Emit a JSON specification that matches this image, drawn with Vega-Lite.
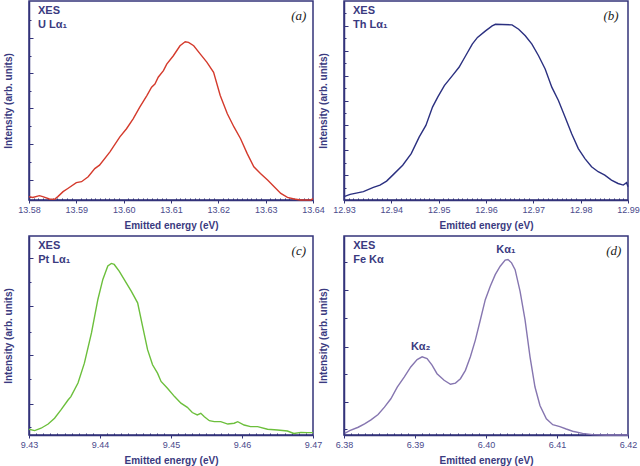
{
  "$schema": "https://vega.github.io/schema/vega-lite/v6.json",
  "padding": {"top": 0, "left": 2, "right": 0, "bottom": 0},
  "background": "white",
  "columns": 2,
  "spacing": {"row": 36, "column": 31},
  "bounds": "flush",
  "config": {
    "view": {"stroke": "#33337a", "strokeWidth": 1.5},
    "axis": {
      "grid": false,
      "domainColor": "#33337a",
      "domainWidth": 1.5,
      "tickColor": "#33337a",
      "tickWidth": 1,
      "tickCount": 500,
      "labelColor": "#4a4a8c",
      "labelFont": "Liberation Sans",
      "labelFontSize": 9,
      "labelFlush": false,
      "labelBound": false,
      "labelOverlap": false,
      "titleColor": "#3a3a80",
      "titleFont": "Liberation Sans",
      "titleFontSize": 10,
      "titleFontWeight": "bold"
    },
    "text": {"font": "Liberation Sans", "fontSize": 11, "fontWeight": "bold", "color": "#3a3a80"}
  },
  "datasets": {
    "a": [
      {"e":13.5800,"i":0.017},{"e":13.5808,"i":0.013},{"e":13.5822,"i":0.022},{"e":13.5829,"i":0.017},{"e":13.5843,"i":0.005},{"e":13.5854,"i":0.003},{"e":13.5861,"i":0.017},{"e":13.5872,"i":0.042},{"e":13.5882,"i":0.058},{"e":13.5900,"i":0.087},{"e":13.5911,"i":0.092},{"e":13.5925,"i":0.117},{"e":13.5939,"i":0.158},{"e":13.5949,"i":0.175},{"e":13.5971,"i":0.242},{"e":13.5992,"i":0.317},{"e":13.6006,"i":0.358},{"e":13.6020,"i":0.408},{"e":13.6034,"i":0.467},{"e":13.6049,"i":0.525},{"e":13.6059,"i":0.567},{"e":13.6066,"i":0.583},{"e":13.6073,"i":0.617},{"e":13.6084,"i":0.650},{"e":13.6091,"i":0.683},{"e":13.6105,"i":0.725},{"e":13.6119,"i":0.775},{"e":13.6130,"i":0.795},{"e":13.6137,"i":0.792},{"e":13.6148,"i":0.775},{"e":13.6162,"i":0.733},{"e":13.6176,"i":0.692},{"e":13.6190,"i":0.642},{"e":13.6204,"i":0.525},{"e":13.6219,"i":0.433},{"e":13.6233,"i":0.367},{"e":13.6247,"i":0.308},{"e":13.6261,"i":0.233},{"e":13.6275,"i":0.167},{"e":13.6289,"i":0.133},{"e":13.6304,"i":0.100},{"e":13.6318,"i":0.067},{"e":13.6332,"i":0.033},{"e":13.6346,"i":0.013},{"e":13.6360,"i":0.005},{"e":13.6374,"i":0.0},{"e":13.6396,"i":0.0},{"e":13.6400,"i":0.008}
    ],
    "b": [
      {"e":12.9300,"i":0.017},{"e":12.9313,"i":0.028},{"e":12.9341,"i":0.042},{"e":12.9362,"i":0.063},{"e":12.9376,"i":0.075},{"e":12.9390,"i":0.095},{"e":12.9403,"i":0.125},{"e":12.9424,"i":0.175},{"e":12.9442,"i":0.233},{"e":12.9459,"i":0.317},{"e":12.9473,"i":0.375},{"e":12.9487,"i":0.467},{"e":12.9498,"i":0.517},{"e":12.9512,"i":0.575},{"e":12.9529,"i":0.625},{"e":12.9543,"i":0.667},{"e":12.9557,"i":0.725},{"e":12.9571,"i":0.783},{"e":12.9582,"i":0.817},{"e":12.9599,"i":0.850},{"e":12.9613,"i":0.875},{"e":12.9620,"i":0.883},{"e":12.9634,"i":0.882},{"e":12.9655,"i":0.880},{"e":12.9669,"i":0.858},{"e":12.9683,"i":0.825},{"e":12.9697,"i":0.783},{"e":12.9711,"i":0.725},{"e":12.9725,"i":0.658},{"e":12.9739,"i":0.567},{"e":12.9753,"i":0.500},{"e":12.9767,"i":0.417},{"e":12.9781,"i":0.333},{"e":12.9795,"i":0.258},{"e":12.9809,"i":0.208},{"e":12.9823,"i":0.167},{"e":12.9837,"i":0.142},{"e":12.9851,"i":0.125},{"e":12.9865,"i":0.100},{"e":12.9879,"i":0.083},{"e":12.9890,"i":0.075},{"e":12.9897,"i":0.087},{"e":12.9900,"i":0.067}
    ],
    "c": [
      {"e":9.4300,"i":0.029},{"e":9.4308,"i":0.022},{"e":9.4317,"i":0.034},{"e":9.4327,"i":0.055},{"e":9.4336,"i":0.084},{"e":9.4345,"i":0.126},{"e":9.4355,"i":0.176},{"e":9.4359,"i":0.193},{"e":9.4369,"i":0.261},{"e":9.4378,"i":0.361},{"e":9.4388,"i":0.513},{"e":9.4397,"i":0.681},{"e":9.4404,"i":0.782},{"e":9.4411,"i":0.849},{"e":9.4416,"i":0.862},{"e":9.4420,"i":0.857},{"e":9.4427,"i":0.824},{"e":9.4434,"i":0.782},{"e":9.4444,"i":0.723},{"e":9.4453,"i":0.664},{"e":9.4460,"i":0.546},{"e":9.4467,"i":0.429},{"e":9.4474,"i":0.353},{"e":9.4481,"i":0.311},{"e":9.4486,"i":0.269},{"e":9.4495,"i":0.235},{"e":9.4505,"i":0.193},{"e":9.4514,"i":0.160},{"e":9.4523,"i":0.139},{"e":9.4530,"i":0.113},{"e":9.4537,"i":0.101},{"e":9.4542,"i":0.109},{"e":9.4547,"i":0.092},{"e":9.4554,"i":0.072},{"e":9.4561,"i":0.067},{"e":9.4570,"i":0.067},{"e":9.4580,"i":0.055},{"e":9.4589,"i":0.059},{"e":9.4594,"i":0.067},{"e":9.4603,"i":0.050},{"e":9.4612,"i":0.042},{"e":9.4622,"i":0.042},{"e":9.4636,"i":0.029},{"e":9.4650,"i":0.025},{"e":9.4664,"i":0.020},{"e":9.4673,"i":0.008},{"e":9.4683,"i":0.013},{"e":9.4692,"i":0.012},{"e":9.4700,"i":0.012}
    ],
    "d": [
      {"e":6.3801,"i":0.008},{"e":6.3808,"i":0.022},{"e":6.3820,"i":0.039},{"e":6.3829,"i":0.056},{"e":6.3838,"i":0.076},{"e":6.3848,"i":0.103},{"e":6.3857,"i":0.140},{"e":6.3866,"i":0.182},{"e":6.3875,"i":0.241},{"e":6.3885,"i":0.292},{"e":6.3894,"i":0.342},{"e":6.3903,"i":0.379},{"e":6.3910,"i":0.393},{"e":6.3917,"i":0.384},{"e":6.3924,"i":0.351},{"e":6.3931,"i":0.308},{"e":6.3941,"i":0.275},{"e":6.3950,"i":0.255},{"e":6.3957,"i":0.261},{"e":6.3964,"i":0.283},{"e":6.3971,"i":0.325},{"e":6.3978,"i":0.393},{"e":6.3985,"i":0.477},{"e":6.3992,"i":0.578},{"e":6.3999,"i":0.680},{"e":6.4006,"i":0.747},{"e":6.4013,"i":0.806},{"e":6.4020,"i":0.848},{"e":6.4027,"i":0.879},{"e":6.4031,"i":0.882},{"e":6.4036,"i":0.865},{"e":6.4041,"i":0.831},{"e":6.4048,"i":0.722},{"e":6.4055,"i":0.578},{"e":6.4062,"i":0.393},{"e":6.4069,"i":0.241},{"e":6.4076,"i":0.148},{"e":6.4085,"i":0.081},{"e":6.4094,"i":0.052},{"e":6.4104,"i":0.042},{"e":6.4113,"i":0.030},{"e":6.4122,"i":0.019},{"e":6.4136,"i":0.008},{"e":6.4150,"i":0.002},{"e":6.4169,"i":0.0},{"e":6.4200,"i":0.0}
    ],
    "notes": [
      {"p":"a","e":13.5819,"i":0.95,"t":"XES"},{"p":"a","e":13.5819,"i":0.88,"t":"U Lα₁"},
      {"p":"b","e":12.9319,"i":0.95,"t":"XES"},{"p":"b","e":12.9319,"i":0.88,"t":"Th Lα₁"},
      {"p":"c","e":9.4313,"i":0.95,"t":"XES"},{"p":"c","e":9.4313,"i":0.88,"t":"Pt Lα₁"},
      {"p":"d","e":6.3813,"i":0.95,"t":"XES"},{"p":"d","e":6.3813,"i":0.88,"t":"Fe Kα"}
    ],
    "tags": [
      {"p":"a","e":13.637,"i":0.925,"t":"(a)"},
      {"p":"b","e":12.9864,"i":0.925,"t":"(b)"},
      {"p":"c","e":9.468,"i":0.925,"t":"(c)"},
      {"p":"d","e":6.418,"i":0.925,"t":"(d)"}
    ],
    "peaks": [
      {"p":"d","e":6.3908,"i":0.444,"t":"Kα₂"},
      {"p":"d","e":6.4028,"i":0.93,"t":"Kα₁"}
    ]
  },
  "concat": [
    {
      "width": 284, "height": 199,
      "layer": [
        {
          "data": {"name": "a"},
          "mark": {"type": "line", "color": "#d43a2c", "strokeWidth": 1.4},
          "encoding": {
            "x": {"field": "e", "type": "quantitative", "scale": {"domain": [13.58, 13.64], "nice": false, "zero": false},
              "axis": {"title": "Emitted energy (eV)", "tickCount": 500, "labelOverlap": false, "values": [13.58,13.581,13.582,13.583,13.584,13.585,13.586,13.587,13.588,13.589,13.59,13.591,13.592,13.593,13.594,13.595,13.596,13.597,13.598,13.599,13.6,13.601,13.602,13.603,13.604,13.605,13.606,13.607,13.608,13.609,13.61,13.611,13.612,13.613,13.614,13.615,13.616,13.617,13.618,13.619,13.62,13.621,13.622,13.623,13.624,13.625,13.626,13.627,13.628,13.629,13.63,13.631,13.632,13.633,13.634,13.635,13.636,13.637,13.638,13.639,13.64],
                "labelExpr": "abs(datum.value*100-round(datum.value*100))<0.01 ? format(datum.value,'.2f') : ''",
                "tickSize": {"condition": {"test": "abs(datum.value*100-round(datum.value*100))<0.01", "value": 3}, "value": -2},
                "labelPadding": 2, "titlePadding": 6}},
            "y": {"field": "i", "type": "quantitative", "scale": {"domain": [0, 1], "nice": false},
              "axis": {"title": "Intensity (arb. units)", "labels": false, "tickCount": 500, "values": [0.015,0.1,0.19,0.28,0.37,0.46,0.55,0.64,0.725,0.815,0.905],
                "tickSize": {"condition": {"test": "indexof([0.1,0.28,0.46,0.64,0.815], datum.value) >= 0", "value": -4}, "value": -2},
                "titlePadding": 15}}
          }
        },
        {
          "data": {"name": "notes"}, "transform": [{"filter": "datum.p == 'a'"}],
          "mark": {"type": "text", "align": "left", "baseline": "middle"},
          "encoding": {"x": {"field": "e", "type": "quantitative"}, "y": {"field": "i", "type": "quantitative"}, "text": {"field": "t"}}
        },
        {
          "data": {"name": "tags"}, "transform": [{"filter": "datum.p == 'a'"}],
          "mark": {"type": "text", "align": "center", "baseline": "middle", "font": "Liberation Serif", "fontStyle": "italic", "fontWeight": "normal", "fontSize": 13, "color": "#222"},
          "encoding": {"x": {"field": "e", "type": "quantitative"}, "y": {"field": "i", "type": "quantitative"}, "text": {"field": "t"}}
        }
      ]
    },
    {
      "width": 284, "height": 199,
      "layer": [
        {
          "data": {"name": "b"},
          "mark": {"type": "line", "color": "#2b3080", "strokeWidth": 1.4},
          "encoding": {
            "x": {"field": "e", "type": "quantitative", "scale": {"domain": [12.93, 12.99], "nice": false, "zero": false},
              "axis": {"title": "Emitted energy (eV)", "tickCount": 500, "labelOverlap": false, "values": [12.93,12.931,12.932,12.933,12.934,12.935,12.936,12.937,12.938,12.939,12.94,12.941,12.942,12.943,12.944,12.945,12.946,12.947,12.948,12.949,12.95,12.951,12.952,12.953,12.954,12.955,12.956,12.957,12.958,12.959,12.96,12.961,12.962,12.963,12.964,12.965,12.966,12.967,12.968,12.969,12.97,12.971,12.972,12.973,12.974,12.975,12.976,12.977,12.978,12.979,12.98,12.981,12.982,12.983,12.984,12.985,12.986,12.987,12.988,12.989,12.99],
                "labelExpr": "abs(datum.value*100-round(datum.value*100))<0.01 ? format(datum.value,'.2f') : ''",
                "tickSize": {"condition": {"test": "abs(datum.value*100-round(datum.value*100))<0.01", "value": 3}, "value": -2},
                "labelPadding": 2, "titlePadding": 6}},
            "y": {"field": "i", "type": "quantitative", "scale": {"domain": [0, 1], "nice": false},
              "axis": {"title": "Intensity (arb. units)", "labels": false, "tickCount": 500, "values": [0.0625,0.125,0.1875,0.25,0.3125,0.375,0.4375,0.5,0.5625,0.625,0.6875,0.75,0.8125,0.875,0.9375],
                "tickSize": {"condition": {"test": "indexof([0.125,0.25,0.375,0.5,0.625,0.75,0.875], datum.value) >= 0", "value": -4}, "value": -2},
                "titlePadding": 15}}
          }
        },
        {
          "data": {"name": "notes"}, "transform": [{"filter": "datum.p == 'b'"}],
          "mark": {"type": "text", "align": "left", "baseline": "middle"},
          "encoding": {"x": {"field": "e", "type": "quantitative"}, "y": {"field": "i", "type": "quantitative"}, "text": {"field": "t"}}
        },
        {
          "data": {"name": "tags"}, "transform": [{"filter": "datum.p == 'b'"}],
          "mark": {"type": "text", "align": "center", "baseline": "middle", "font": "Liberation Serif", "fontStyle": "italic", "fontWeight": "normal", "fontSize": 13, "color": "#222"},
          "encoding": {"x": {"field": "e", "type": "quantitative"}, "y": {"field": "i", "type": "quantitative"}, "text": {"field": "t"}}
        }
      ]
    },
    {
      "width": 284, "height": 199,
      "layer": [
        {
          "data": {"name": "c"},
          "mark": {"type": "line", "color": "#6cbf3c", "strokeWidth": 1.4},
          "encoding": {
            "x": {"field": "e", "type": "quantitative", "scale": {"domain": [9.43, 9.47], "nice": false, "zero": false},
              "axis": {"title": "Emitted energy (eV)", "tickCount": 500, "labelOverlap": false, "values": [9.43,9.431,9.432,9.433,9.434,9.435,9.436,9.437,9.438,9.439,9.44,9.441,9.442,9.443,9.444,9.445,9.446,9.447,9.448,9.449,9.45,9.451,9.452,9.453,9.454,9.455,9.456,9.457,9.458,9.459,9.46,9.461,9.462,9.463,9.464,9.465,9.466,9.467,9.468,9.469,9.47],
                "labelExpr": "abs(datum.value*100-round(datum.value*100))<0.01 ? format(datum.value,'.2f') : ''",
                "tickSize": {"condition": {"test": "abs(datum.value*100-round(datum.value*100))<0.01", "value": 3}, "value": -2},
                "labelPadding": 2, "titlePadding": 6}},
            "y": {"field": "i", "type": "quantitative", "scale": {"domain": [0, 1], "nice": false},
              "axis": {"title": "Intensity (arb. units)", "labels": false, "tickCount": 500, "values": [0.04,0.157,0.283,0.4,0.52,0.646,0.767,0.889],
                "tickSize": {"condition": {"test": "indexof([0.157,0.4,0.646,0.889], datum.value) >= 0", "value": -4}, "value": -2},
                "titlePadding": 15}}
          }
        },
        {
          "data": {"name": "notes"}, "transform": [{"filter": "datum.p == 'c'"}],
          "mark": {"type": "text", "align": "left", "baseline": "middle"},
          "encoding": {"x": {"field": "e", "type": "quantitative"}, "y": {"field": "i", "type": "quantitative"}, "text": {"field": "t"}}
        },
        {
          "data": {"name": "tags"}, "transform": [{"filter": "datum.p == 'c'"}],
          "mark": {"type": "text", "align": "center", "baseline": "middle", "font": "Liberation Serif", "fontStyle": "italic", "fontWeight": "normal", "fontSize": 13, "color": "#222"},
          "encoding": {"x": {"field": "e", "type": "quantitative"}, "y": {"field": "i", "type": "quantitative"}, "text": {"field": "t"}}
        }
      ]
    },
    {
      "width": 284, "height": 199,
      "layer": [
        {
          "data": {"name": "d"},
          "mark": {"type": "line", "color": "#8676b0", "strokeWidth": 1.4},
          "encoding": {
            "x": {"field": "e", "type": "quantitative", "scale": {"domain": [6.38, 6.42], "nice": false, "zero": false},
              "axis": {"title": "Emitted energy (eV)", "tickCount": 500, "labelOverlap": false, "values": [6.38,6.381,6.382,6.383,6.384,6.385,6.386,6.387,6.388,6.389,6.39,6.391,6.392,6.393,6.394,6.395,6.396,6.397,6.398,6.399,6.4,6.401,6.402,6.403,6.404,6.405,6.406,6.407,6.408,6.409,6.41,6.411,6.412,6.413,6.414,6.415,6.416,6.417,6.418,6.419,6.42],
                "labelExpr": "abs(datum.value*100-round(datum.value*100))<0.01 ? format(datum.value,'.2f') : ''",
                "tickSize": {"condition": {"test": "abs(datum.value*100-round(datum.value*100))<0.01", "value": 3}, "value": -2},
                "labelPadding": 2, "titlePadding": 6}},
            "y": {"field": "i", "type": "quantitative", "scale": {"domain": [0, 1], "nice": false},
              "axis": {"title": "Intensity (arb. units)", "labels": false, "tickCount": 500, "values": [0.03,0.167,0.308,0.444,0.586,0.727,0.869],
                "tickSize": {"condition": {"test": "indexof([0.167,0.444,0.727], datum.value) >= 0", "value": -4}, "value": -3},
                "titlePadding": 15}}
          }
        },
        {
          "data": {"name": "notes"}, "transform": [{"filter": "datum.p == 'd'"}],
          "mark": {"type": "text", "align": "left", "baseline": "middle"},
          "encoding": {"x": {"field": "e", "type": "quantitative"}, "y": {"field": "i", "type": "quantitative"}, "text": {"field": "t"}}
        },
        {
          "data": {"name": "tags"}, "transform": [{"filter": "datum.p == 'd'"}],
          "mark": {"type": "text", "align": "center", "baseline": "middle", "font": "Liberation Serif", "fontStyle": "italic", "fontWeight": "normal", "fontSize": 13, "color": "#222"},
          "encoding": {"x": {"field": "e", "type": "quantitative"}, "y": {"field": "i", "type": "quantitative"}, "text": {"field": "t"}}
        },
        {
          "data": {"name": "peaks"}, "transform": [{"filter": "datum.p == 'd'"}],
          "mark": {"type": "text", "align": "center", "baseline": "middle"},
          "encoding": {"x": {"field": "e", "type": "quantitative"}, "y": {"field": "i", "type": "quantitative"}, "text": {"field": "t"}}
        }
      ]
    }
  ]
}
